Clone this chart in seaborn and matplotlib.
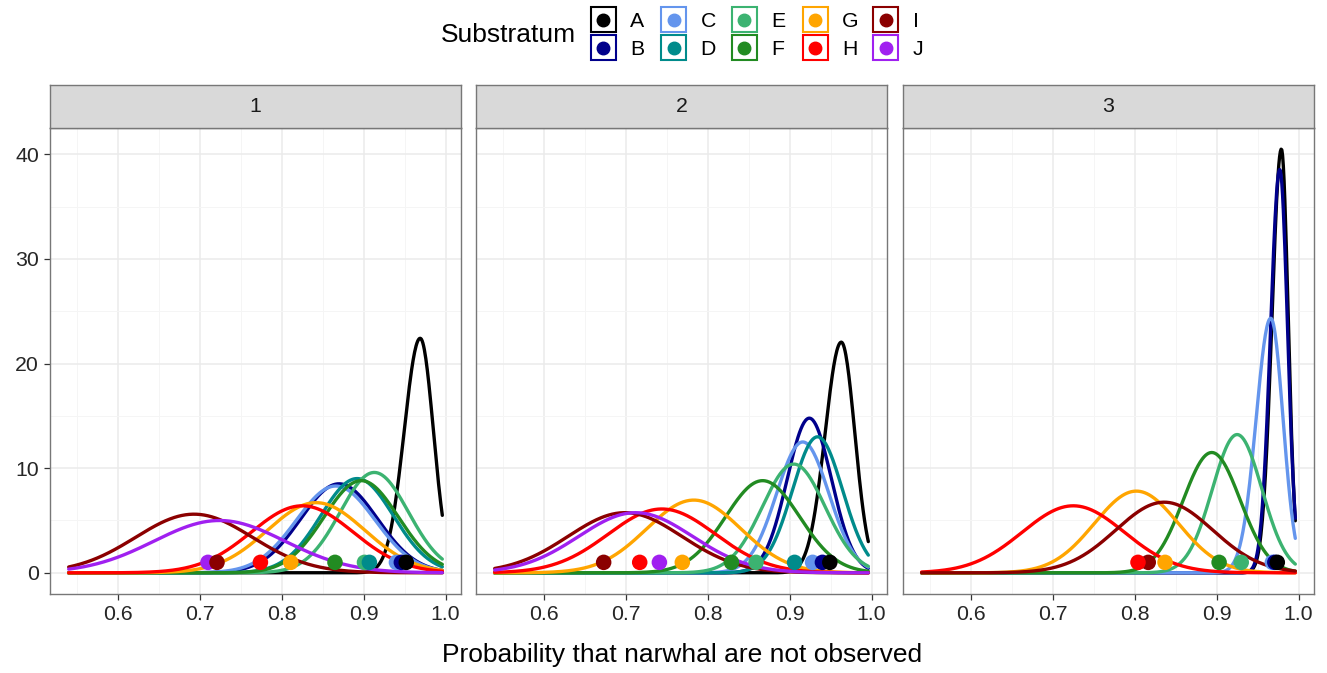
import numpy as np
import pandas as pd
import matplotlib
matplotlib.use("Agg")
import matplotlib.pyplot as plt
import seaborn as sns
from matplotlib.lines import Line2D
from matplotlib.patches import Rectangle
from matplotlib.ticker import MultipleLocator

# --- data --------------------------------------------------------------------
SUBSTRATA = ["A", "B", "C", "D", "E", "F", "G", "H", "I", "J"]
COLORS = ["#000000", "#00008B", "#6495ED", "#008B8B", "#3CB371",
          "#228B22", "#FFA500", "#FF0000", "#8B0000", "#A020F0"]
PANELS = [1, 2, 3]

# which substrata appear in each panel
SUB_P1 = ["A", "B", "C", "D", "E", "F", "G", "H", "I", "J"]
SUB_P2 = ["A", "B", "C", "D", "E", "F", "G", "H", "I", "J"]
SUB_P3 = ["A", "B", "C", "E", "F", "G", "H", "I"]

# density curves: mode, left sd, right sd (split normal)
MODE_P1 = [0.969, 0.870, 0.866, 0.892, 0.913, 0.897, 0.842, 0.825, 0.693, 0.724]
SDLO_P1 = [0.0195, 0.0469, 0.0481, 0.0443, 0.0416, 0.0453, 0.0595, 0.0623, 0.0712, 0.0798]
SDHI_P1 = [0.0161, 0.0469, 0.0481, 0.0443, 0.0416, 0.0453, 0.0595, 0.0623, 0.0712, 0.0798]

MODE_P2 = [0.963, 0.924, 0.916, 0.934, 0.905, 0.867, 0.783, 0.744, 0.699, 0.712]
SDLO_P2 = [0.0197, 0.0270, 0.0319, 0.0307, 0.0384, 0.0453, 0.0574, 0.0654, 0.0694, 0.0694]
SDHI_P2 = [0.0165, 0.0270, 0.0319, 0.0307, 0.0384, 0.0453, 0.0574, 0.0654, 0.0694, 0.0694]

MODE_P3 = [0.979, 0.977, 0.966, 0.925, 0.894, 0.802, 0.725, 0.836]
SDLO_P3 = [0.0114, 0.0112, 0.0178, 0.0302, 0.0347, 0.0511, 0.0623, 0.0591]
SDHI_P3 = [0.0083, 0.0095, 0.0150, 0.0302, 0.0347, 0.0511, 0.0623, 0.0591]

# observed values (points)
OBS_P1 = [0.952, 0.946, 0.940, 0.907, 0.901, 0.865, 0.811, 0.774, 0.721, 0.710]
OBS_P2 = [0.949, 0.940, 0.928, 0.906, 0.859, 0.829, 0.769, 0.717, 0.673, 0.741]
OBS_P3 = [0.974, 0.971, 0.968, 0.930, 0.903, 0.837, 0.804, 0.8165]

X_RANGE = (0.54, 0.996)
X_TICKS = [0.6, 0.7, 0.8, 0.9, 1.0]
X_TICKLABELS = ["0.6", "0.7", "0.8", "0.9", "1.0"]
Y_TICKS = [0, 10, 20, 30, 40]
POINT_Y = 1

sns.set_theme(style="white")
plt.rcParams['font.family'] = ['Liberation Sans', 'DejaVu Sans']

palette = dict(zip(SUBSTRATA, COLORS))


def split_normal(x, mode, sd_lo, sd_hi):
    sd = np.where(x < mode, sd_lo, sd_hi)
    return 2 / (np.sqrt(2 * np.pi) * (sd_lo + sd_hi)) * np.exp(-0.5 * ((x - mode) / sd) ** 2)


panel_data = {
    1: (SUB_P1, MODE_P1, SDLO_P1, SDHI_P1, OBS_P1),
    2: (SUB_P2, MODE_P2, SDLO_P2, SDHI_P2, OBS_P2),
    3: (SUB_P3, MODE_P3, SDLO_P3, SDHI_P3, OBS_P3),
}

xs = np.linspace(X_RANGE[0], X_RANGE[1], 500)
curve_rows = []
point_rows = []
for p in PANELS:
    subs, modes, lo, hi, obs = panel_data[p]
    for s, m, a, b, o in zip(subs, modes, lo, hi, obs):
        dens = split_normal(xs, m, a, b)
        curve_rows.append(pd.DataFrame({"panel": p, "Substratum": s, "x": xs, "density": dens}))
        point_rows.append({"panel": p, "Substratum": s, "obs": o, "y": POINT_Y})
curves = pd.concat(curve_rows, ignore_index=True)
points = pd.DataFrame(point_rows)

# limits with ggplot-like 5% expansion
xr = X_RANGE[1] - X_RANGE[0]
xlim = (X_RANGE[0] - 0.05 * xr, X_RANGE[1] + 0.05 * xr)
ymax = curves["density"].max()
ylim = (-0.05 * ymax, ymax * 1.05)

W, H = 1327, 673
fig = plt.figure(figsize=(W / 100, H / 100), dpi=100)

panel_left = [50, 476, 903]
panel_w = 411
plot_top, plot_bot = 128, 594
strip_top = 85
TEXT_COL = "#262626"

for i, p in enumerate(PANELS):
    ax = fig.add_axes([panel_left[i] / W, 1 - plot_bot / H, panel_w / W, (plot_bot - plot_top) / H])
    dfc = curves[curves["panel"] == p]
    dfp = points[points["panel"] == p].iloc[::-1]
    order = [s for s in SUBSTRATA if s in dfc["Substratum"].unique()]
    sns.lineplot(data=dfc, x="x", y="density", hue="Substratum", hue_order=order,
                 palette=palette, linewidth=2.4, estimator=None, legend=False, ax=ax)
    sns.scatterplot(data=dfp, x="obs", y="y", hue="Substratum", palette=palette,
                    s=125, linewidth=0, legend=False, ax=ax, zorder=3)

    ax.set_xlim(xlim)
    ax.set_ylim(ylim)
    ax.set_xticks(X_TICKS)
    ax.set_xticklabels(X_TICKLABELS)
    ax.set_yticks(Y_TICKS)
    ax.xaxis.set_minor_locator(MultipleLocator(0.05))
    ax.yaxis.set_minor_locator(MultipleLocator(5))
    ax.set_axisbelow(True)
    ax.grid(which="major", color="#EBEBEB", linewidth=1.1)
    ax.grid(which="minor", color="#F5F5F5", linewidth=0.7)
    ax.tick_params(which="major", direction="out", length=4, width=0.9, color="#333333",
                   labelsize=15.3, labelcolor=TEXT_COL, pad=4)
    ax.tick_params(which="minor", length=0)
    ax.tick_params(axis="x", bottom=True)
    if i == 0:
        ax.tick_params(axis="y", left=True)
    else:
        ax.tick_params(axis="y", left=False, labelleft=False)
    ax.set_xlabel("")
    ax.set_ylabel("")
    for sp in ax.spines.values():
        sp.set_color("#777777")
        sp.set_linewidth(1.0)

    # facet strip
    sax = fig.add_axes([panel_left[i] / W, 1 - plot_top / H, panel_w / W, (plot_top - strip_top) / H])
    sax.set_facecolor("#D9D9D9")
    sax.set_xticks([])
    sax.set_yticks([])
    for sp in sax.spines.values():
        sp.set_color("#777777")
        sp.set_linewidth(1.0)
    sax.text(0.5, 0.5, str(p), ha="center", va="center", fontsize=15.3, color="#1A1A1A",
             transform=sax.transAxes)

fig.text(682 / W, 1 - 655 / H, "Probability that narwhal are not observed",
         ha="center", va="center", fontsize=19, color="black")

# legend at top: 5 columns x 2 rows, drawn in figure pixels
fig.text(441 / W, 1 - 35 / H, "Substratum", ha="left", va="center", fontsize=19, color="black")
box = 25
for k, (s, c) in enumerate(zip(SUBSTRATA, COLORS)):
    col, row = k // 2, k % 2
    x0 = 590.5 + col * 70.7
    cy = 19.5 + row * 28
    fig.add_artist(Rectangle((x0 / W, 1 - (cy + box / 2) / H), box / W, box / H,
                             transform=fig.transFigure, facecolor="white",
                             edgecolor=c, linewidth=1.5))
    fig.add_artist(Line2D([(x0 + box / 2) / W], [1 - cy / H], transform=fig.transFigure,
                          linestyle="none", marker="o", markersize=9, color=c))
    fig.text((x0 + 39.5) / W, 1 - cy / H, s, ha="left", va="center_baseline",
             fontsize=15.3, color="black")

fig.savefig("out.png", dpi=100)
